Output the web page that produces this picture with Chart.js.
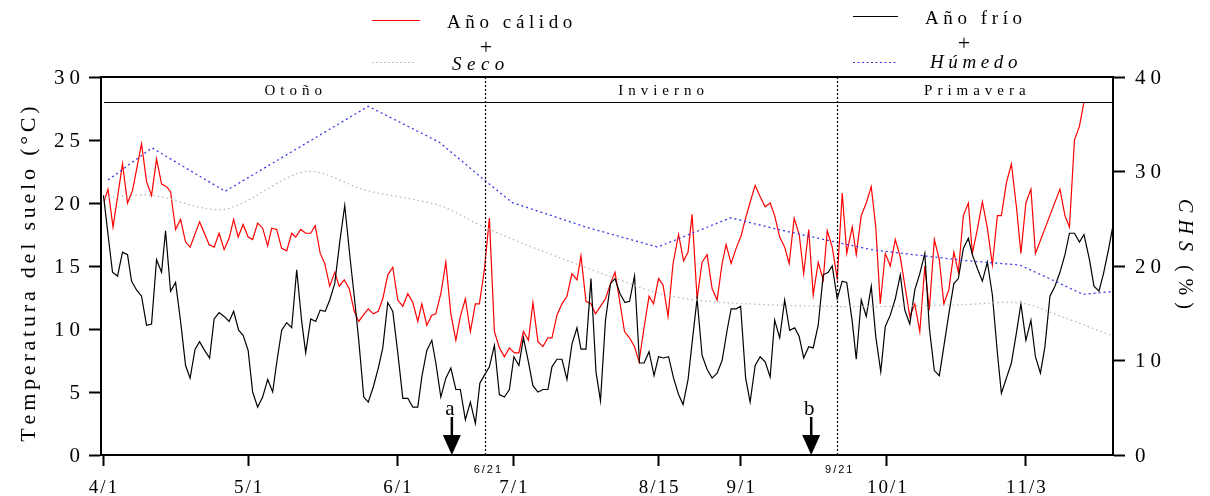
<!DOCTYPE html>
<html><head><meta charset="utf-8">
<script src="https://cdn.jsdelivr.net/npm/chart.js@4"></script>
<style>html,body{margin:0;padding:0;background:#fff}canvas{display:block}</style>
</head><body>
<div style="width:1210px;height:496px"><canvas id="c" width="1210" height="496"></canvas></div>
<script>
// ---- data (x = sample index along the season axis) ----
const dateTicks = ['4/1','5/1','6/1','7/1','8/15','9/1','10/1','11/3'];
const dateTickPos = [0.4, 29.4, 59.2, 82.4, 111.4, 127.8, 157, 184.8];
const xMax = 202.2;
const seasonBounds = [76.8, 147];
const seasonBoundLabels = ['6/21', '9/21'];
const seasons = ['Otoño', 'Invierno', 'Primavera'];
const eventPos = [70.1, 141.9];
const eventLabels = ['a', 'b'];
const tempTicks = [0, 5, 10, 15, 20, 25, 30];
const chsTicks = [0, 10, 20, 30, 40];
const headerLevel = 28;

const warmYear = [[0.6,20.1],[1.4,21.1],[2.4,18.1],[4.3,23.1],[5.3,20.0],[6.3,21.0],[8.1,24.7],[9.1,21.7],[10.1,20.6],[11.1,23.5],[12.1,21.5],[13.1,21.3],[13.9,20.9],[14.9,17.9],[15.9,18.7],[16.9,16.9],[17.8,16.5],[19.7,18.5],[21.6,16.7],[22.6,16.5],[23.6,17.6],[24.6,16.3],[25.6,17.2],[26.5,18.7],[27.4,17.3],[28.4,18.3],[29.4,17.3],[30.3,17.1],[31.3,18.4],[32.3,18.0],[33.3,16.6],[34.1,18.0],[35.1,17.9],[36.1,16.4],[37.1,16.2],[38.1,17.6],[38.9,17.3],[39.9,17.9],[40.9,17.6],[41.9,17.6],[42.8,18.2],[43.8,16.0],[44.7,15.2],[45.7,13.4],[46.7,14.5],[47.6,13.4],[48.6,13.9],[49.6,13.2],[50.6,11.4],[51.5,10.6],[52.4,11.1],[53.4,11.6],[54.4,11.2],[55.4,11.4],[56.3,12.4],[57.3,14.3],[58.3,14.9],[59.3,12.3],[60.3,11.8],[61.3,12.8],[62.3,12.1],[63.3,10.6],[64.1,12.0],[65.1,10.3],[66.1,11.1],[66.9,11.2],[67.9,12.8],[68.9,15.3],[69.9,11.2],[70.9,9.1],[71.8,11.0],[72.8,12.4],[73.8,9.8],[74.8,12.0],[75.6,12.0],[76.6,14.7],[77.6,18.8],[78.6,9.8],[79.6,8.5],[80.6,7.8],[81.6,8.5],[82.6,8.1],[83.5,8.1],[84.4,9.8],[85.4,9.1],[86.3,12.1],[87.3,9.0],[88.3,8.6],[89.3,9.3],[90.1,9.3],[91.1,11.1],[92.1,12.0],[93.1,12.6],[94.1,14.4],[95.1,13.9],[95.9,15.8],[96.9,12.2],[97.9,12.0],[98.8,11.2],[99.8,11.8],[100.8,12.4],[101.8,13.6],[102.7,14.5],[103.6,12.3],[104.6,9.8],[105.6,9.3],[106.6,8.6],[107.5,7.4],[108.5,10.1],[109.5,12.6],[110.4,12.0],[111.4,14.0],[112.3,13.5],[113.3,11.0],[114.3,15.2],[115.4,17.5],[116.4,15.4],[117.3,16.1],[118.1,19.1],[119.1,12.4],[120.1,15.3],[121.1,15.9],[122.1,13.2],[123.1,12.3],[124.1,15.2],[124.9,16.7],[125.9,15.2],[126.9,16.4],[127.9,17.4],[128.8,18.8],[129.8,20.2],[130.7,21.4],[131.7,20.5],[132.7,19.7],[133.7,20.0],[134.6,19.0],[135.6,17.3],[136.6,16.5],[137.5,15.2],[138.5,18.8],[139.5,17.5],[140.4,14.4],[141.4,17.9],[142.3,12.7],[143.3,15.3],[144.3,13.9],[145.1,17.8],[146.1,16.5],[147.1,14.0],[148.1,20.8],[149.0,16.0],[150.1,18.1],[150.9,15.9],[151.9,19.0],[152.9,20.0],[153.9,21.3],[154.8,18.1],[155.7,12.0],[156.7,16.0],[157.7,15.0],[158.7,17.1],[159.7,15.7],[161.6,11.0],[162.6,12.0],[163.6,9.8],[164.6,15.0],[165.5,11.5],[166.5,17.1],[167.5,15.5],[168.4,12.0],[169.4,13.1],[170.4,16.1],[171.3,14.5],[172.3,19.0],[173.3,20.0],[174.1,16.0],[175.1,17.9],[176.1,20.1],[177.1,18.0],[178.1,15.1],[179.1,19.0],[179.9,19.0],[180.9,21.6],[181.9,23.1],[182.9,19.7],[183.8,16.0],[184.8,20.0],[185.8,21.1],[186.7,16.0],[191.6,21.1],[192.6,19.0],[193.5,18.1],[194.5,25.0],[195.5,26.1],[196.4,28.0]];

const coldYear = [[0.5,20.6],[1.4,17.5],[2.3,14.5],[3.3,14.2],[4.3,16.1],[5.3,15.9],[6.1,13.8],[7.1,13.1],[8.1,12.6],[9.1,10.3],[10.1,10.4],[11.1,15.5],[12.1,14.5],[12.9,17.8],[13.9,13.0],[14.9,13.7],[15.9,10.6],[16.9,7.1],[17.8,6.1],[18.8,8.4],[19.7,9.0],[20.7,8.3],[21.7,7.7],[22.6,10.8],[23.6,11.3],[24.6,11.0],[25.6,10.6],[26.5,11.4],[27.5,9.9],[28.4,9.5],[29.4,8.3],[30.3,5.0],[31.3,3.8],[32.3,4.6],[33.3,6.0],[34.3,5.0],[35.1,7.3],[36.1,9.9],[37.1,10.5],[38.1,10.1],[39.1,14.7],[40.1,10.6],[40.9,8.1],[41.9,10.8],[42.9,10.6],[43.8,11.5],[44.8,11.4],[45.7,12.3],[46.7,13.6],[47.7,16.9],[48.7,19.8],[49.8,15.5],[50.6,12.6],[51.5,9.1],[52.5,4.6],[53.4,4.2],[54.4,5.4],[55.4,6.9],[56.3,8.5],[57.3,12.1],[58.3,11.4],[59.3,8.1],[60.3,4.5],[61.3,4.5],[62.3,3.8],[63.3,3.8],[64.1,6.2],[65.1,8.3],[66.1,9.1],[66.9,7.3],[67.9,4.6],[68.9,6.1],[69.9,6.9],[70.9,5.2],[71.8,5.2],[72.8,2.8],[73.8,4.2],[74.8,2.5],[75.7,5.7],[76.7,6.4],[77.6,7.0],[78.6,8.7],[79.6,4.8],[80.6,4.6],[81.6,5.2],[82.5,7.8],[83.5,7.1],[84.4,9.3],[85.4,7.4],[86.3,5.5],[87.3,5.0],[88.3,5.2],[89.3,5.2],[90.1,7.0],[91.1,7.6],[92.1,7.6],[93.1,6.0],[94.1,8.8],[95.1,10.1],[95.9,8.4],[96.9,8.4],[97.9,14.0],[98.9,6.6],[99.8,4.3],[100.8,10.7],[101.8,13.6],[102.7,14.0],[103.7,12.8],[104.7,12.1],[105.6,12.2],[106.6,14.2],[107.6,7.3],[108.5,7.3],[109.5,8.2],[110.5,6.3],[111.4,7.8],[112.4,7.7],[113.4,7.8],[114.4,6.1],[115.4,4.8],[116.3,4.0],[117.3,6.0],[118.1,8.9],[119.1,12.4],[120.1,7.9],[121.1,6.8],[122.1,6.1],[123.1,6.5],[124.1,7.5],[125.1,9.9],[125.9,11.6],[126.9,11.6],[127.8,11.8],[128.8,6.1],[129.7,4.2],[130.7,7.1],[131.7,7.8],[132.7,7.4],[133.7,6.2],[134.6,10.7],[135.6,9.3],[136.6,12.3],[137.6,9.9],[138.6,10.1],[139.5,9.4],[140.4,7.7],[141.4,8.6],[142.3,8.5],[143.3,10.3],[144.3,14.3],[145.3,14.5],[146.1,15.0],[147.1,12.4],[148.1,13.8],[149.0,13.7],[150.1,10.6],[150.9,7.6],[151.9,12.3],[152.9,11.0],[153.9,13.4],[154.8,9.4],[155.8,6.6],[156.7,10.2],[157.7,11.1],[158.7,12.4],[159.7,14.3],[160.6,11.5],[161.6,10.4],[162.6,13.1],[163.6,14.4],[164.6,16.0],[165.5,10.1],[166.5,6.7],[167.5,6.3],[168.4,8.6],[169.4,11.2],[170.4,13.6],[171.3,14.0],[172.3,16.4],[173.3,17.2],[174.1,15.9],[175.1,14.8],[176.1,13.8],[177.1,15.3],[178.1,12.7],[179.1,8.1],[179.9,4.9],[180.9,6.1],[181.9,7.3],[182.9,9.7],[183.8,12.0],[184.8,9.1],[185.8,10.7],[186.7,7.8],[187.7,6.5],[188.6,8.6],[189.6,12.6],[190.6,13.4],[191.6,14.5],[192.6,15.9],[193.5,17.6],[194.5,17.6],[195.5,16.9],[196.4,17.5],[197.5,15.5],[198.4,13.4],[199.4,13.0],[200.3,14.4],[201.3,16.3],[202.1,18.0]];

const dryCHS = [[0.6,27.2],[10,27.5],[24.6,26.0],[41,30.0],[53,28.0],[67.6,26.4],[76.6,24.1],[87.6,21.7],[102.2,18.8],[113,16.9],[125.6,16.1],[149.6,15.7],[172.2,15.9],[183.6,16.1],[192.2,14.6],[201.6,12.7]];

const wetCHS = [[1.4,29.1],[10.2,32.5],[24.8,27.9],[53.4,36.9],[67.6,33.1],[76.6,29.1],[82.2,26.7],[97,24.1],[111.2,22.0],[125.8,25.1],[134.2,24.0],[147,22.5],[154.2,21.7],[172.2,20.6],[183.6,20.1],[191,18.3],[196.2,17.0],[202.2,17.3]];

const toPts = arr => arr.map(p => ({x: p[0], y: p[1]}));
const SERIF = "'Liberation Serif','Times New Roman',serif";
const SANS = "'Liberation Sans','DejaVu Sans',sans-serif";

function spacedWidth(ctx, text, sp) {
  let w = 0;
  for (const ch of text) w += ctx.measureText(ch).width;
  return w + sp * Math.max(0, [...text].length - 1);
}
function drawSpaced(ctx, text, x, y, sp, align) {
  const w = spacedWidth(ctx, text, sp);
  let cx = align === 'center' ? x - w / 2 : (align === 'right' ? x - w : x);
  ctx.textAlign = 'left';
  for (const ch of text) {
    ctx.fillText(ch, cx, y);
    cx += ctx.measureText(ch).width + sp;
  }
  return w;
}

const deco = {
  id: 'deco',
  afterDraw(chart) {
    const {ctx, chartArea: a, scales: {x, y, y2}} = chart;
    ctx.save();
    ctx.fillStyle = '#000';
    ctx.strokeStyle = '#000';
    // top border
    ctx.lineWidth = 2;
    ctx.beginPath(); ctx.moveTo(a.left - 1, a.top); ctx.lineTo(a.right + 1, a.top); ctx.stroke();
    // season header line
    const hy = Math.round(y.getPixelForValue(headerLevel)) + 0.5;
    ctx.lineWidth = 1.2;
    ctx.beginPath(); ctx.moveTo(a.left + 3, hy); ctx.lineTo(a.right, hy); ctx.stroke();
    // season boundaries (dotted)
    ctx.setLineDash([2, 2]);
    ctx.lineWidth = 1.2;
    seasonBounds.forEach(v => {
      const px = Math.round(x.getPixelForValue(v)) + 0.5;
      ctx.beginPath(); ctx.moveTo(px, a.top); ctx.lineTo(px, a.bottom); ctx.stroke();
    });
    ctx.setLineDash([]);
    // season names
    ctx.font = '15px ' + SERIF;
    ctx.textBaseline = 'middle';
    const edges = [0, ...seasonBounds, xMax];
    const sy = y.getPixelForValue((30 + headerLevel) / 2) + 1;
    seasons.forEach((s, i) => {
      const cx = (x.getPixelForValue(edges[i]) + x.getPixelForValue(edges[i + 1])) / 2;
      drawSpaced(ctx, s, cx, sy, 5, 'center');
    });
    // y tick labels (letter-spaced)
    ctx.font = '21px ' + SERIF;
    ctx.textBaseline = 'middle';
    tempTicks.forEach(v => drawSpaced(ctx, String(v), a.left - 21, y.getPixelForValue(v) + 1, 5, 'right'));
    chsTicks.forEach(v => drawSpaced(ctx, String(v), a.right + 22, y2.getPixelForValue(v) + 1, 5, 'left'));
    // date labels
    ctx.font = '19px ' + SERIF;
    dateTicks.forEach((t, i) => {
      drawSpaced(ctx, t, x.getPixelForValue(dateTickPos[i]), a.bottom + 33, 2, 'center');
    });
    // boundary small labels
    ctx.font = '11px ' + SANS;
    seasonBoundLabels.forEach((t, i) => {
      drawSpaced(ctx, t, x.getPixelForValue(seasonBounds[i]) + 2, a.bottom + 15, 2, 'center');
    });
    // event arrows
    eventPos.forEach((v, i) => {
      const px = x.getPixelForValue(v);
      ctx.lineWidth = 2.5;
      ctx.beginPath(); ctx.moveTo(px, a.bottom - 38); ctx.lineTo(px, a.bottom - 18); ctx.stroke();
      ctx.beginPath();
      ctx.moveTo(px - 9, a.bottom - 20); ctx.lineTo(px + 9, a.bottom - 20); ctx.lineTo(px, a.bottom);
      ctx.closePath(); ctx.fill();
      ctx.font = '21px ' + SERIF;
      ctx.textBaseline = 'alphabetic';
      ctx.textAlign = 'center';
      ctx.fillText(eventLabels[i], px - 2, a.bottom - 40);
    });
    // left axis title
    ctx.save();
    ctx.translate(29, (a.top + a.bottom) / 2 + 8);
    ctx.rotate(-Math.PI / 2);
    ctx.font = '22px ' + SERIF;
    ctx.textBaseline = 'middle';
    drawSpaced(ctx, 'Temperatura del suelo (°C)', 0, 0, 3.8, 'center');
    ctx.restore();
    // right axis title
    ctx.save();
    ctx.translate(1184, (a.top + a.bottom) / 2 - 12);
    ctx.rotate(Math.PI / 2);
    ctx.textBaseline = 'middle';
    ctx.font = 'italic 20px ' + SERIF;
    const w1 = spacedWidth(ctx, 'CHS', 7);
    ctx.font = '20px ' + SERIF;
    const w2 = spacedWidth(ctx, '(%)', 7);
    const total = w1 + 14 + w2;
    ctx.font = 'italic 20px ' + SERIF;
    drawSpaced(ctx, 'CHS', -total / 2, 0, 7, 'left');
    ctx.font = '20px ' + SERIF;
    drawSpaced(ctx, '(%)', -total / 2 + w1 + 14, 0, 7, 'left');
    ctx.restore();
    // legend
    ctx.lineWidth = 1.2;
    ctx.strokeStyle = '#ff0000';
    ctx.beginPath(); ctx.moveTo(372, 20.5); ctx.lineTo(420, 20.5); ctx.stroke();
    ctx.strokeStyle = '#000';
    ctx.beginPath(); ctx.moveTo(853, 16.5); ctx.lineTo(898, 16.5); ctx.stroke();
    ctx.setLineDash([1.5, 2.5]);
    ctx.strokeStyle = '#b0b0b0';
    ctx.beginPath(); ctx.moveTo(372, 62.5); ctx.lineTo(415, 62.5); ctx.stroke();
    ctx.setLineDash([2, 2.5]);
    ctx.strokeStyle = '#3a3ae6';
    ctx.beginPath(); ctx.moveTo(853, 62.5); ctx.lineTo(897, 62.5); ctx.stroke();
    ctx.setLineDash([]);
    ctx.fillStyle = '#000';
    ctx.textBaseline = 'middle';
    ctx.font = '19px ' + SERIF;
    drawSpaced(ctx, 'Año cálido', 447, 23, 4.6, 'left');
    drawSpaced(ctx, 'Año frío', 925, 19, 4.6, 'left');
    ctx.font = '22px ' + SERIF;
    ctx.textAlign = 'center';
    ctx.fillText('+', 486, 48);
    ctx.fillText('+', 964, 44);
    ctx.font = 'italic 19px ' + SERIF;
    drawSpaced(ctx, 'Seco', 452, 65, 5.5, 'left');
    drawSpaced(ctx, 'Húmedo', 930, 63, 4.6, 'left');
    ctx.restore();
  }
};

const axisCommon = {
  grid: {drawOnChartArea: false, drawTicks: true, tickLength: 11, tickColor: '#000', tickWidth: 2},
  border: {display: true, color: '#000', width: 2}
};

new Chart(document.getElementById('c'), {
  type: 'line',
  data: {
    datasets: [
      {label: 'Seco', data: toPts(dryCHS), yAxisID: 'y2', borderColor: '#b4b4b4', borderWidth: 1.2, borderDash: [1.5, 3], pointRadius: 0, tension: 0.3},
      {label: 'Húmedo', data: toPts(wetCHS), yAxisID: 'y2', borderColor: '#3a3ae6', borderWidth: 1.3, borderDash: [2, 3], pointRadius: 0, tension: 0},
      {label: 'Año frío', data: toPts(coldYear), yAxisID: 'y', borderColor: '#000', borderWidth: 1.2, pointRadius: 0, tension: 0},
      {label: 'Año cálido', data: toPts(warmYear), yAxisID: 'y', borderColor: '#ff0000', borderWidth: 1.2, pointRadius: 0, tension: 0}
    ]
  },
  options: {
    responsive: false,
    animation: false,
    devicePixelRatio: 1,
    layout: {padding: {top: 77, left: 0, right: 0, bottom: 0}},
    plugins: {legend: {display: false}, tooltip: {enabled: false}},
    scales: {
      x: {
        type: 'linear', min: 0, max: xMax,
        ...axisCommon,
        afterBuildTicks(s) { s.ticks = dateTickPos.map(v => ({value: v})); },
        afterFit(s) { s.height = 41; },
        ticks: {autoSkip: false, maxRotation: 0, color: 'rgba(0,0,0,0)', font: {family: SERIF, size: 19},
          callback(v) { const i = dateTickPos.indexOf(v); return i >= 0 ? dateTicks[i] : ''; }}
      },
      y: {
        position: 'left', min: 0, max: 30,
        ...axisCommon,
        grid: {...axisCommon.grid, tickLength: 12},
        afterBuildTicks(s) { s.ticks = tempTicks.map(v => ({value: v})); },
        afterFit(s) { s.width = 101; },
        ticks: {color: 'rgba(0,0,0,0)', padding: 5, font: {family: SERIF, size: 21}}
      },
      y2: {
        position: 'right', min: 0, max: 40,
        ...axisCommon,
        grid: {...axisCommon.grid, tickLength: 12},
        afterBuildTicks(s) { s.ticks = chsTicks.map(v => ({value: v})); },
        afterFit(s) { s.width = 97; },
        ticks: {color: 'rgba(0,0,0,0)', padding: 9, font: {family: SERIF, size: 21}}
      }
    }
  },
  plugins: [deco]
});
</script>
</body></html>
